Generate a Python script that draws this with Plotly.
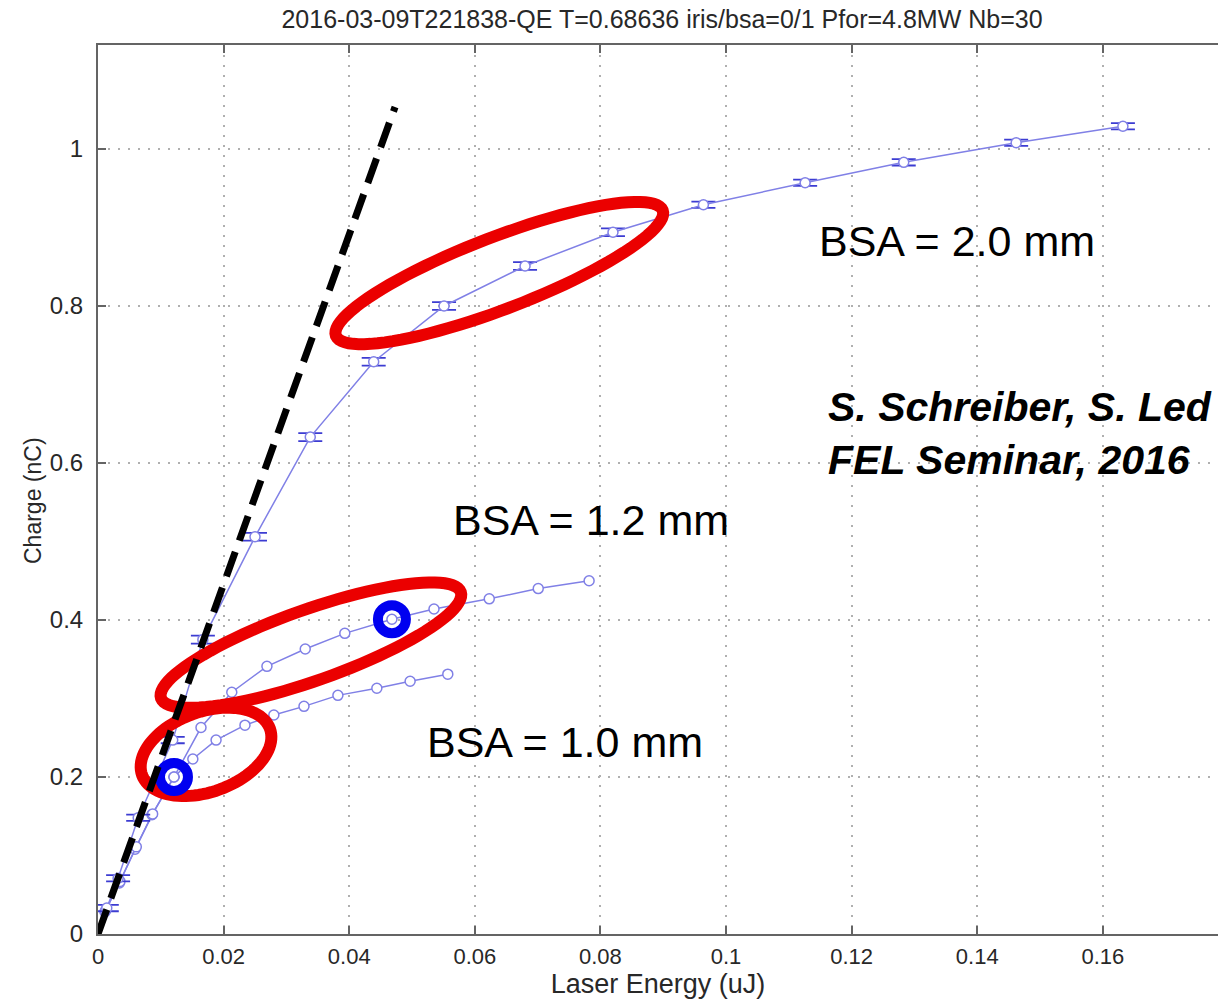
import math
import plotly.graph_objects as go

# ---------------- data ----------------
title_text = "2016-03-09T221838-QE T=0.68636 iris/bsa=0/1 Pfor=4.8MW Nb=30"

# BSA = 2.0 mm (with error bars)
bsa20_x = [0.0014, 0.0032, 0.0064, 0.0119, 0.0167, 0.0250, 0.0338, 0.0439, 0.0551,
           0.0680, 0.0820, 0.0964, 0.1126, 0.1283, 0.1462, 0.1632]
bsa20_y = [0.033, 0.071, 0.148, 0.247, 0.375, 0.506, 0.633, 0.729, 0.800,
           0.851, 0.894, 0.929, 0.957, 0.983, 1.008, 1.029]
bsa20_err = [0.004, 0.004, 0.004, 0.004, 0.005, 0.005, 0.005, 0.005, 0.005,
             0.005, 0.005, 0.004, 0.004, 0.004, 0.004, 0.004]

# BSA = 1.2 mm
bsa12_x = [0.0012, 0.0035, 0.0061, 0.0087, 0.0121, 0.0164, 0.0213, 0.0269, 0.0330,
           0.0393, 0.0468, 0.0535, 0.0623, 0.0701, 0.0782]
bsa12_y = [0.030, 0.067, 0.111, 0.153, 0.200, 0.263, 0.308, 0.341, 0.363,
           0.383, 0.401, 0.414, 0.427, 0.440, 0.450]

# BSA = 1.0 mm
bsa10_x = [0.0011, 0.0034, 0.0059, 0.0086, 0.0121, 0.0151, 0.0188, 0.0234, 0.0280,
           0.0328, 0.0382, 0.0444, 0.0497, 0.0557]
bsa10_y = [0.028, 0.065, 0.108, 0.152, 0.200, 0.223, 0.247, 0.266, 0.279,
           0.290, 0.304, 0.313, 0.322, 0.331]

# linear QE fit (dashed line)
fit_x = [0.0, 0.0473]
fit_y = [0.0, 1.0535]

# highlighted points (blue rings)
ring_x = [0.0121, 0.0468]
ring_y = [0.200, 0.401]

# red ellipses: centre (data), semi-axes (px), tilt (deg)
ell_cx = [0.0639, 0.0339, 0.0172]
ell_cy = [0.842, 0.368, 0.232]
ell_a = [175, 159, 68]
ell_b = [36, 35.5, 40]
ell_ang = [21, 19.5, 20]

x_ticks = [0, 0.02, 0.04, 0.06, 0.08, 0.1, 0.12, 0.14, 0.16]
x_ticktext = ["0", "0.02", "0.04", "0.06", "0.08", "0.1", "0.12", "0.14", "0.16"]
y_ticks = [0, 0.2, 0.4, 0.6, 0.8, 1.0]
y_ticktext = ["0", "0.2", "0.4", "0.6", "0.8", "1"]

labels = ["BSA = 2.0 mm", "BSA = 1.2 mm", "BSA = 1.0 mm"]
label_x = [0.1368, 0.0785, 0.0744]
label_y = [0.883, 0.528, 0.245]

credit_text = "<i><b>S. Schreiber, S. Led<br>FEL Seminar, 2016</b></i>"

# ---------------- layout constants ----------------
W, H = 1218, 1002
ML, MR, MT, MB = 98, 0, 45, 68
XMAX = 0.17834
YMAX = 1.1325
PW = W - ML - MR
PH = H - MT - MB
sx = PW / XMAX
sy = PH / YMAX

LINE_COL = "rgb(128,128,230)"
ERR_COL = "rgb(60,60,210)"
NARROW = "Liberation Sans Narrow, Arial Narrow, Liberation Sans, Arial"
SANS = "Liberation Sans, Arial, Helvetica"
TXT = "rgb(40,40,40)"

fig = go.Figure()

marker = dict(symbol="circle", size=10, color="white", line=dict(color=LINE_COL, width=1.5))

fig.add_trace(go.Scatter(x=bsa10_x, y=bsa10_y, mode="lines+markers",
                         line=dict(color=LINE_COL, width=1.5), marker=marker,
                         showlegend=False))
fig.add_trace(go.Scatter(x=bsa12_x, y=bsa12_y, mode="lines+markers",
                         line=dict(color=LINE_COL, width=1.5), marker=marker,
                         showlegend=False))
fig.add_trace(go.Scatter(x=bsa20_x, y=bsa20_y, mode="lines+markers",
                         line=dict(color=LINE_COL, width=1.5), marker=marker,
                         error_y=dict(type="data", array=bsa20_err, color=ERR_COL,
                                      thickness=1.8, width=12),
                         showlegend=False))

shapes = []
# red ellipses
for cx, cy, a, b, ang in zip(ell_cx, ell_cy, ell_a, ell_b, ell_ang):
    th = math.radians(ang)
    pts = []
    for k in range(97):
        t = 2 * math.pi * k / 96
        dx = a * math.cos(t) * math.cos(th) - b * math.sin(t) * math.sin(th)
        dy = a * math.cos(t) * math.sin(th) + b * math.sin(t) * math.cos(th)
        pts.append((cx + dx / sx, cy + dy / sy))
    path = "M " + " L ".join(f"{px:.6f},{py:.6f}" for px, py in pts) + " Z"
    shapes.append(dict(type="path", path=path, xref="x", yref="y",
                       line=dict(color="rgb(235,0,0)", width=12), layer="above"))

# blue rings
for rx, ry in zip(ring_x, ring_y):
    shapes.append(dict(type="circle", xref="x", yref="y", xsizemode="pixel", ysizemode="pixel",
                       xanchor=rx, yanchor=ry, x0=-14, x1=14, y0=-14, y1=14,
                       line=dict(color="rgb(0,0,240)", width=10), layer="above"))

# dashed fit line
shapes.append(dict(type="line", xref="x", yref="y", x0=fit_x[0], y0=fit_y[0], x1=fit_x[1], y1=fit_y[1],
                   line=dict(color="black", width=7, dash="26px,12px"), layer="above"))

annotations = []
for t, lx, ly in zip(labels, label_x, label_y):
    annotations.append(dict(text=t, x=lx, y=ly, xref="x", yref="y", showarrow=False,
                            xanchor="center", yanchor="middle",
                            font=dict(family=SANS, size=43, color="black")))
annotations.append(dict(text=credit_text, x=0.1159, y=0.638, xref="x", yref="y", showarrow=False,
                        xanchor="left", yanchor="middle", align="left",
                        font=dict(family=SANS, size=41, color="black")))
# y-axis title placed to match the reference position (paper coords are plot-area relative)
annotations.append(dict(text="Charge (nC)", x=(33 - ML) / PW, y=(H - MB - 501) / PH,
                        xref="paper", yref="paper",
                        showarrow=False, textangle=-90, xanchor="center", yanchor="middle",
                        font=dict(family=NARROW, size=23, color=TXT)))

axis_common = dict(showline=True, linecolor="rgb(100,100,100)", linewidth=2,
                   ticks="inside", ticklen=8, tickwidth=1.5, tickcolor="rgb(100,100,100)",
                   showgrid=True, gridcolor="rgb(175,175,175)", gridwidth=1.5, griddash="2px,8px",
                   zeroline=False)

fig.update_layout(
    width=W, height=H,
    margin=dict(l=ML, r=MR, t=MT, b=MB),
    paper_bgcolor="white", plot_bgcolor="white",
    title=dict(text=title_text, x=(662 - ML) / PW, xref="paper", xanchor="center",
               y=1 - 19 / H, yref="container", yanchor="middle",
               font=dict(family=NARROW, size=25, color=TXT)),
    xaxis=dict(range=[0, XMAX], tickvals=x_ticks, ticktext=x_ticktext, mirror="ticks",
               tickfont=dict(family=NARROW, size=22, color=TXT),
               ticklabelstandoff=2,
               title=dict(text="Laser Energy (uJ)", standoff=2,
                          font=dict(family=NARROW, size=27, color=TXT)),
               **axis_common),
    yaxis=dict(range=[0, YMAX], tickvals=y_ticks, ticktext=y_ticktext, mirror=False,
               tickfont=dict(family=SANS, size=24, color=TXT),
               ticklabelstandoff=8,
               **axis_common),
    shapes=shapes,
    annotations=annotations,
)

fig.write_html("out.html")
